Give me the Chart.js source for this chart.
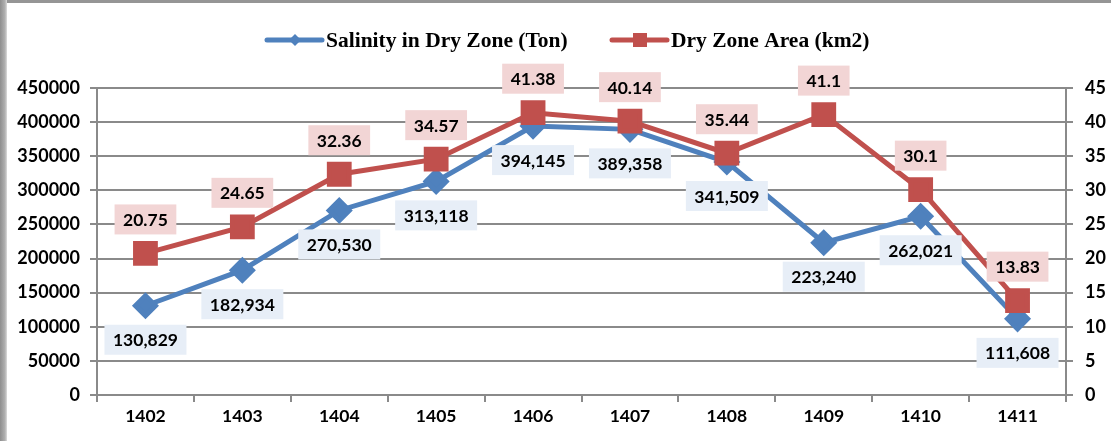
<!DOCTYPE html>
<html>
<head>
<meta charset="utf-8">
<script src="https://cdn.jsdelivr.net/npm/chart.js@4.4.1/dist/chart.umd.min.js"></script>
<style>
html, body { margin: 0; padding: 0; background: #fff; }
#wrap { position: relative; width: 1111px; height: 441px; }
#frameTop { position: absolute; left: 0; top: 0; width: 1111px; height: 3px; background: #959595; }
#frameLeft { position: absolute; left: 0; top: 0; width: 7px; height: 441px; background: linear-gradient(to right, #8e8e8e, #b0b0b0 70%, #dcdcdc); }
</style>
</head>
<body>
<div id="wrap">
  <canvas id="myChart" width="1111" height="441"></canvas>
  <div id="frameTop"></div>
  <div id="frameLeft"></div>
</div>
<script>
var years = ['1402', '1403', '1404', '1405', '1406', '1407', '1408', '1409', '1410', '1411'];
var salinity = [130829, 182934, 270530, 313118, 394145, 389358, 341509, 223240, 262021, 111608];
var dryArea = [20.75, 24.65, 32.36, 34.57, 41.38, 40.14, 35.44, 41.1, 30.1, 13.83];
var salinityMax = 450000;
var salinityStep = 50000;
var areaMax = 45;
var areaStep = 5;

var blue = '#4f81bd';
var red = '#c0504d';
var gridGray = '#8a8a8a';
var xFont = { family: 'Lato', weight: 'bold', size: 17.5 };
var yFont = { family: 'Lato', weight: 'bold', size: 18 };

// boxed value labels, blue ones under the points, red ones above
var boxLabels = {
    id: 'boxLabels',
    afterDatasetsDraw: function(chart) {
        var ctx = chart.ctx;
        ctx.save();
        ctx.font = 'bold 17.5px Lato';
        ctx.textAlign = 'center';
        ctx.textBaseline = 'middle';
        chart.data.datasets.forEach(function(ds, i) {
            var meta = chart.getDatasetMeta(i);
            meta.data.forEach(function(pt, j) {
                var v = ds.data[j];
                var txt = ds.yAxisID === 'y' ? v.toLocaleString('en-US') : String(v);
                var w = ctx.measureText(txt).width + 17;
                var cy = pt.y + ds.labelShift;
                ctx.fillStyle = ds.boxColor;
                ctx.fillRect(pt.x - w / 2, cy - 15, w, 30);
                ctx.fillStyle = '#000';
                ctx.fillText(txt, pt.x, cy + 1);
            });
        });
        ctx.restore();
    },
    afterDraw: function(chart) {
        // legend: line with marker then bold serif text
        var ctx = chart.ctx;
        var items = [{ x: 267, ds: chart.data.datasets[0] }, { x: 612, ds: chart.data.datasets[1] }];
        ctx.save();
        ctx.font = 'bold 21.5px "Liberation Serif"';
        ctx.textBaseline = 'middle';
        items.forEach(function(it) {
            var y = 40;
            ctx.strokeStyle = it.ds.borderColor;
            ctx.lineWidth = 5;
            ctx.lineCap = 'round';
            ctx.beginPath();
            ctx.moveTo(it.x, y);
            ctx.lineTo(it.x + 55, y);
            ctx.stroke();
            ctx.fillStyle = it.ds.borderColor;
            ctx.beginPath();
            if (it.ds.pointStyle === 'rectRot') {
                var cx = it.x + 28;
                ctx.moveTo(cx, y - 6); ctx.lineTo(cx + 6, y); ctx.lineTo(cx, y + 6); ctx.lineTo(cx - 6, y);
                ctx.closePath();
            } else {
                ctx.rect(it.x + 21, y - 7, 14, 14);
            }
            ctx.fill();
            ctx.fillStyle = '#000';
            ctx.fillText(it.ds.label, it.x + 59, y + 1);
        });
        ctx.restore();
    }
};

var ctx = document.getElementById('myChart').getContext('2d');
var chart = new Chart(ctx, {
    type: 'line',
    data: {
        labels: years,
        datasets: [{
            label: 'Salinity in Dry Zone (Ton)',
            data: salinity,
            yAxisID: 'y',
            borderColor: blue,
            backgroundColor: blue,
            borderWidth: 5,
            pointStyle: 'rectRot',
            pointRadius: 10,
            pointHoverRadius: 10,
            tension: 0,
            order: 1,
            boxColor: '#e7eef7',
            labelShift: 34
        }, {
            label: 'Dry Zone Area (km2)',
            data: dryArea,
            yAxisID: 'y1',
            borderColor: red,
            backgroundColor: red,
            borderWidth: 5,
            pointStyle: 'rect',
            pointRadius: 14,
            pointHoverRadius: 14,
            tension: 0,
            order: 0,
            boxColor: '#f2d5d5',
            labelShift: -34
        }]
    },
    options: {
        responsive: false,
        animation: false,
        devicePixelRatio: 1,
        layout: { padding: { top: 88, left: 0, right: 0, bottom: 0 } },
        plugins: {
            legend: { display: false },
            tooltip: { enabled: false }
        },
        scales: {
            x: {
                offset: true,
                grid: { offset: true, drawOnChartArea: false, drawTicks: true, tickLength: 7, color: gridGray, lineWidth: 2 },
                border: { color: gridGray, width: 2 },
                ticks: { color: '#000', font: xFont, padding: 4 },
                afterFit: function(s) { s.height = 46; }
            },
            y: {
                position: 'left',
                min: 0,
                max: salinityMax,
                ticks: { stepSize: salinityStep, color: '#000', font: yFont, padding: 10,
                    callback: function(v) { return String(v); } },
                grid: { color: gridGray, lineWidth: 2, tickLength: 7 },
                border: { color: gridGray, width: 2 },
                afterFit: function(s) { s.width = 97; }
            },
            y1: {
                position: 'right',
                min: 0,
                max: areaMax,
                ticks: { stepSize: areaStep, color: '#000', font: yFont, padding: 12,
                    callback: function(v) { return String(v); } },
                grid: { drawOnChartArea: false, color: gridGray, lineWidth: 2, tickLength: 7 },
                border: { color: gridGray, width: 2 },
                afterFit: function(s) { s.width = 45; }
            }
        }
    },
    plugins: [boxLabels]
});
</script>
</body>
</html>
